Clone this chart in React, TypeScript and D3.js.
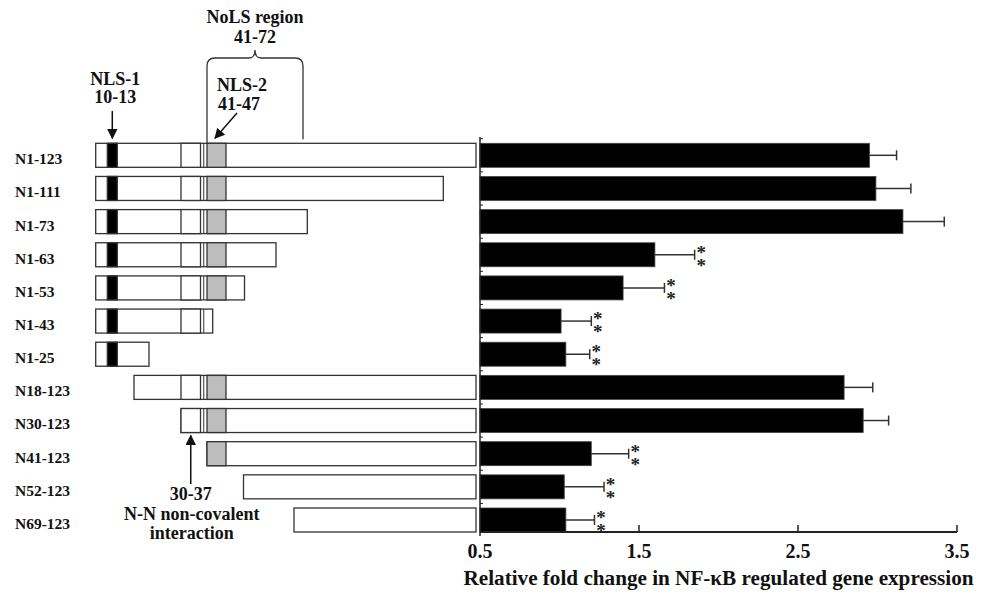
import React from "react";
import * as d3 from "d3";

const categories = ["N1-123", "N1-111", "N1-73", "N1-63", "N1-53", "N1-43", "N1-25", "N18-123", "N30-123", "N41-123", "N52-123", "N69-123"];
const fragStart = [1, 1, 1, 1, 1, 1, 1, 18, 30, 41, 52, 69];
const fragEnd = [123, 111, 73, 63, 53, 43, 25, 123, 123, 123, 123, 123];
const foldChange = [2.95, 2.99, 3.16, 1.6, 1.4, 1.01, 1.04, 2.79, 2.91, 1.2, 1.03, 1.04];
const errorSD = [0.17, 0.22, 0.26, 0.25, 0.26, 0.19, 0.15, 0.18, 0.16, 0.235, 0.25, 0.18];
const significant = [false, false, false, true, true, true, true, false, false, true, true, true];
const xTicks = [0.5, 1.5, 2.5, 3.5];
const featureFrom = [10, 30, 41];
const featureTo = [13, 37, 47];
const featureKind = ["nls1", "nn", "nls2"];

const W = 986;
const H = 598;
const FONT = "'Liberation Serif', 'Times New Roman', serif";

export default function App() {
  const x = d3.scaleLinear().domain([0.5, 3.5]).range([480, 957]);
  const y = d3.scaleBand<string>().domain(categories).range([143.3, 532]).paddingInner(0.276).paddingOuter(0);
  const bw = y.bandwidth();
  const step = y.step();
  // residue boundary -> pixel (the schematic is not drawn to scale)
  const sx = d3
    .scaleLinear()
    .domain([0, 9, 13, 17, 25, 29, 37, 40, 43, 47, 51, 53, 63, 68, 72, 73, 111, 123])
    .range([95.7, 107.3, 117.3, 134, 149, 181, 200.5, 207, 212.7, 226, 243.5, 244.5, 276, 294, 303, 307.3, 443.3, 476]);

  const nlsLeft = sx(40);
  const nolsRight = sx(72);
  const braceMid = (nlsLeft + nolsRight) / 2;
  const top0 = y(categories[0])!;
  const bracePath = `M${nlsLeft},${top0} L${nlsLeft},66 Q${nlsLeft},58 ${nlsLeft + 8},58 L${braceMid - 6},58 Q${braceMid},58 ${braceMid},50 Q${braceMid},58 ${braceMid + 6},58 L${nolsRight - 8},58 Q${nolsRight},58 ${nolsRight},66 L${nolsRight},${top0 - 4}`;

  const nnX = (sx(29) + sx(37)) / 2;
  const nls1X = (sx(9) + sx(13)) / 2;
  const row30 = y("N30-123")!;

  return (
    <svg width={W} height={H} style={{ position: "absolute", left: 0, top: 0, background: "#fff" }} fontFamily={FONT}>
      <defs>
        <marker id="ah" viewBox="0 0 10 10" refX="9" refY="5" markerWidth="7" markerHeight="7" orient="auto-start-reverse">
          <path d="M0,0 L10,5 L0,10 z" fill="#111" />
        </marker>
      </defs>

      {/* row labels */}
      {categories.map((c) => (
        <text key={c} x={15} y={y(c)! + bw / 2 + 3.5} dy="0.35em" fontSize={15.5} fontWeight="bold" fill="#111">
          {c}
        </text>
      ))}

      {/* schematics */}
      {categories.map((c, i) => {
        const t = y(c)!;
        const s = fragStart[i];
        const e = fragEnd[i];
        return (
          <g key={"s" + c}>
            <rect x={sx(s - 1)} y={t} width={sx(e) - sx(s - 1)} height={bw} fill="#fff" stroke="#333" strokeWidth={1.3} />
            {featureKind.map((k, j) => {
              if (featureFrom[j] < s || featureTo[j] > e) return null;
              const x0 = sx(featureFrom[j] - 1);
              const x1 = sx(featureTo[j]);
              const fill = k === "nls1" ? "#000" : k === "nls2" ? "#bdbdbd" : "#fff";
              return <rect key={k} x={x0} y={t} width={x1 - x0} height={bw} fill={fill} stroke="#333" strokeWidth={1.3} />;
            })}
            {s <= 38 && e >= 40 ? (
              <line x1={sx(38.5)} x2={sx(38.5)} y1={t} y2={t + bw} stroke="#333" strokeWidth={1} />
            ) : null}
          </g>
        );
      })}

      {/* annotations */}
      <text x={braceMid} y={23} textAnchor="middle" fontSize={18} fontWeight="bold" fill="#111">NoLS region</text>
      <text x={braceMid} y={43} textAnchor="middle" fontSize={18} fontWeight="bold" fill="#111">41-72</text>
      <path d={bracePath} fill="none" stroke="#333" strokeWidth={1.3} />

      <text x={nls1X + 3} y={85} textAnchor="middle" fontSize={18} fontWeight="bold" fill="#111">NLS-1</text>
      <text x={nls1X + 3} y={103} textAnchor="middle" fontSize={18} fontWeight="bold" fill="#111">10-13</text>
      <line x1={nls1X} x2={nls1X} y1={111} y2={top0 - 5} stroke="#111" strokeWidth={1.5} markerEnd="url(#ah)" />

      <text x={217} y={91} fontSize={18} fontWeight="bold" fill="#111">NLS-2</text>
      <text x={218} y={110} fontSize={18} fontWeight="bold" fill="#111">41-47</text>
      <line x1={237} x2={215} y1={113} y2={top0 - 5} stroke="#111" strokeWidth={1.5} markerEnd="url(#ah)" />

      <line x1={nnX} x2={nnX} y1={484} y2={row30 + bw + 3} stroke="#111" strokeWidth={1.5} markerEnd="url(#ah)" />
      <text x={nnX} y={500} textAnchor="middle" fontSize={18} fontWeight="bold" fill="#111">30-37</text>
      <text x={nnX + 1} y={520} textAnchor="middle" fontSize={18} fontWeight="bold" fill="#111">N-N non-covalent</text>
      <text x={nnX + 1} y={539} textAnchor="middle" fontSize={18} fontWeight="bold" fill="#111">interaction</text>

      {/* bars */}
      {categories.map((c, i) => {
        const t = y(c)!;
        const cy = t + bw / 2;
        const xe = x(foldChange[i] + errorSD[i]);
        return (
          <g key={"b" + c}>
            <rect x={x(0.5)} y={t} width={x(foldChange[i]) - x(0.5)} height={bw} fill="#000" stroke="#444" strokeWidth={0.8} />
            <line x1={x(foldChange[i])} x2={xe} y1={cy} y2={cy} stroke="#333" strokeWidth={1.5} />
            <line x1={xe} x2={xe} y1={cy - 5} y2={cy + 5} stroke="#333" strokeWidth={1.5} />
            {significant[i] ? (
              <text textAnchor="middle" fontSize={19} fontWeight="bold" fill="#222">
                <tspan x={xe + 6.5} y={cy + 4}>*</tspan>
                <tspan x={xe + 6.5} y={cy + 17}>*</tspan>
              </text>
            ) : null}
          </g>
        );
      })}

      {/* y axis line with small ticks */}
      <line x1={x(0.5)} x2={x(0.5)} y1={137} y2={532} stroke="#222" strokeWidth={1.5} />
      {categories.map((c) => (
        <line key={"yt" + c} x1={x(0.5)} x2={x(0.5) + 3} y1={y(c)! - (step - bw) / 2} y2={y(c)! - (step - bw) / 2} stroke="#222" strokeWidth={1} />
      ))}

      {/* x axis */}
      <line x1={x(0.5)} x2={x(3.5)} y1={532} y2={532} stroke="#222" strokeWidth={2} />
      {xTicks.map((t) => (
        <g key={"xt" + t}>
          <line x1={x(t)} x2={x(t)} y1={532} y2={t === 0.5 ? 536 : 525} stroke="#222" strokeWidth={1.5} />
          <text x={x(t)} y={558} textAnchor="middle" fontSize={20} fontWeight="bold" fill="#111">
            {t.toFixed(1)}
          </text>
        </g>
      ))}
      <text x={(x(0.5) + x(3.5)) / 2} y={585} textAnchor="middle" fontSize={20.5} fontWeight="bold" fill="#111" textLength={510} lengthAdjust="spacingAndGlyphs">
        Relative fold change in NF-κB regulated gene expression
      </text>
    </svg>
  );
}
